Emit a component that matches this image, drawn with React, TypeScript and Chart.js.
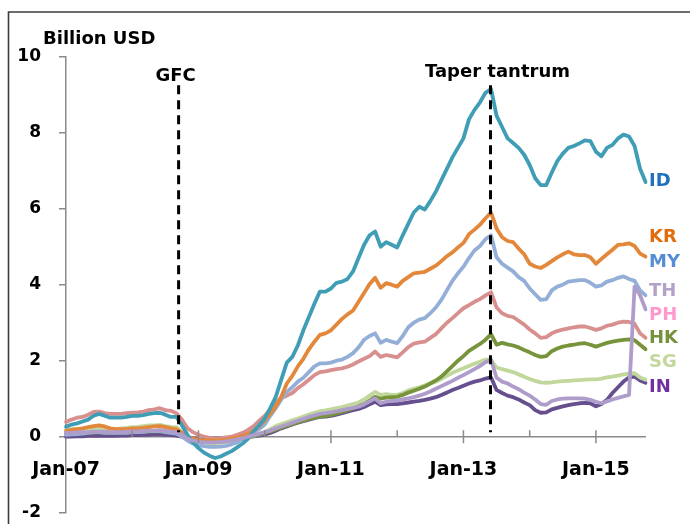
import React, { useEffect, useRef } from "react";
import { Chart, registerables } from "chart.js";

Chart.register(...registerables);

// ---------- DATA ----------
const SERIES_NAMES = ["ID", "KR", "MY", "TH", "PH", "HK", "SG", "IN"];

// Monthly values, Jan-07 .. Oct-15 (billion USD)
const ID = [
  0.26, 0.32, 0.35, 0.40, 0.45, 0.55, 0.60, 0.55, 0.50, 0.50,
  0.50, 0.52, 0.55, 0.55, 0.57, 0.60, 0.62, 0.63, 0.58, 0.52,
  0.52, 0.30, 0.05, -0.15, -0.30, -0.42, -0.50, -0.56, -0.52, -0.45,
  -0.38, -0.28, -0.18, -0.05, 0.15, 0.30, 0.48, 0.75, 1.05, 1.50,
  1.95, 2.10, 2.40, 2.80, 3.15, 3.50, 3.82, 3.82, 3.90, 4.05,
  4.08, 4.15, 4.35, 4.70, 5.05, 5.30, 5.40, 5.00, 5.12, 5.05,
  4.98, 5.30, 5.60, 5.90, 6.05, 5.98, 6.20, 6.45, 6.75, 7.05,
  7.35, 7.60, 7.85, 8.35, 8.60, 8.80, 9.05, 9.15, 8.45, 8.15,
  7.85, 7.73, 7.60, 7.42, 7.15, 6.80, 6.62, 6.62, 6.95, 7.25,
  7.45, 7.60, 7.65, 7.72, 7.80, 7.78, 7.50, 7.38, 7.60, 7.68,
  7.85, 7.95, 7.90, 7.65, 7.05, 6.70,
];
const KR = [
  0.15, 0.18, 0.20, 0.22, 0.25, 0.28, 0.30, 0.27, 0.22, 0.20,
  0.20, 0.20, 0.22, 0.22, 0.23, 0.25, 0.27, 0.28, 0.25, 0.22,
  0.20, 0.10, 0.00, -0.05, -0.08, -0.10, -0.10, -0.10, -0.10, -0.08,
  -0.05, -0.02, 0.02, 0.08, 0.15, 0.28, 0.42, 0.60, 0.80, 1.05,
  1.40, 1.60, 1.85, 2.05, 2.30, 2.50, 2.68, 2.72, 2.80, 2.95,
  3.10, 3.22, 3.32, 3.55, 3.78, 4.02, 4.18, 3.92, 4.04, 4.00,
  3.95, 4.10, 4.20, 4.30, 4.32, 4.34, 4.42, 4.50, 4.62, 4.75,
  4.85, 4.98, 5.10, 5.33, 5.45, 5.58, 5.75, 5.90, 5.48, 5.25,
  5.15, 5.12, 4.95, 4.80, 4.55, 4.48, 4.44, 4.52, 4.62, 4.72,
  4.80, 4.87, 4.80, 4.78, 4.78, 4.72, 4.55, 4.68, 4.80, 4.92,
  5.05, 5.06, 5.09, 5.02, 4.82, 4.74,
];
const MY = [
  0.05, 0.06, 0.07, 0.08, 0.10, 0.12, 0.12, 0.10, 0.10, 0.10,
  0.10, 0.10, 0.12, 0.12, 0.13, 0.15, 0.15, 0.15, 0.12, 0.10,
  0.08, 0.00, -0.10, -0.18, -0.22, -0.25, -0.27, -0.27, -0.26, -0.24,
  -0.20, -0.15, -0.05, 0.05, 0.12, 0.20, 0.32, 0.55, 0.75, 0.98,
  1.18, 1.30, 1.45, 1.55, 1.70, 1.85, 1.93, 1.93, 1.95, 2.00,
  2.03, 2.10, 2.20, 2.35, 2.55, 2.65, 2.72, 2.47, 2.55, 2.50,
  2.46, 2.65, 2.88, 3.00, 3.08, 3.12, 3.25, 3.40, 3.60, 3.85,
  4.10, 4.30, 4.47, 4.70, 4.90, 5.02, 5.20, 5.30, 4.72, 4.55,
  4.45, 4.35, 4.20, 4.10, 3.90, 3.75, 3.60, 3.62, 3.85, 3.95,
  4.00, 4.08, 4.10, 4.12, 4.12, 4.05, 3.95, 3.98, 4.08, 4.12,
  4.18, 4.22, 4.15, 4.10, 3.85, 3.72,
];
const TH = [
  0.10, 0.10, 0.11, 0.12, 0.12, 0.13, 0.14, 0.13, 0.12, 0.12,
  0.12, 0.13, 0.14, 0.14, 0.15, 0.16, 0.16, 0.17, 0.15, 0.13,
  0.12, 0.05, -0.05, -0.10, -0.13, -0.15, -0.15, -0.15, -0.14, -0.12,
  -0.10, -0.07, -0.04, 0.00, 0.04, 0.08, 0.12, 0.16, 0.22, 0.27,
  0.32, 0.37, 0.42, 0.47, 0.52, 0.56, 0.60, 0.62, 0.64, 0.67,
  0.70, 0.73, 0.76, 0.79, 0.85, 0.93, 1.01, 0.88, 0.92, 0.94,
  0.95, 0.98, 1.01, 1.04, 1.08, 1.13, 1.19, 1.26, 1.33, 1.40,
  1.47, 1.55, 1.62, 1.70, 1.78, 1.86, 1.96, 2.02, 1.55, 1.45,
  1.40, 1.32, 1.25, 1.16, 1.08, 0.98, 0.86, 0.84, 0.94, 0.98,
  1.00, 1.01, 1.01, 1.01, 1.00, 0.97, 0.92, 0.88, 0.93, 0.98,
  1.02, 1.06, 1.10, 3.95, 3.72, 3.35,
];
const PH = [
  0.39, 0.45, 0.50, 0.52, 0.58, 0.65, 0.66, 0.62, 0.60, 0.60,
  0.60, 0.62, 0.63, 0.64, 0.66, 0.70, 0.72, 0.75, 0.70, 0.68,
  0.62, 0.45, 0.23, 0.12, 0.05, 0.00, -0.03, -0.05, -0.04, -0.02,
  0.00, 0.05, 0.10, 0.18, 0.28, 0.42, 0.55, 0.70, 0.90, 1.02,
  1.08, 1.15, 1.28, 1.38, 1.50, 1.62, 1.70, 1.72, 1.75, 1.78,
  1.80, 1.84, 1.90, 1.98, 2.05, 2.12, 2.24, 2.10, 2.15, 2.12,
  2.09, 2.22, 2.36, 2.45, 2.48, 2.50, 2.60, 2.70, 2.85, 3.00,
  3.12, 3.25, 3.38, 3.46, 3.55, 3.62, 3.72, 3.80, 3.40, 3.25,
  3.18, 3.15, 3.05, 2.95, 2.82, 2.72, 2.60, 2.62, 2.72, 2.78,
  2.82, 2.85, 2.88, 2.90, 2.90, 2.86, 2.81, 2.85, 2.92, 2.95,
  3.00, 3.03, 3.02, 2.97, 2.72, 2.60,
];
const HK = [
  0.08, 0.09, 0.10, 0.10, 0.10, 0.11, 0.12, 0.11, 0.10, 0.10,
  0.11, 0.11, 0.12, 0.12, 0.13, 0.14, 0.14, 0.15, 0.13, 0.11,
  0.10, 0.03, -0.05, -0.09, -0.11, -0.12, -0.13, -0.13, -0.12, -0.10,
  -0.09, -0.07, -0.04, -0.01, 0.02, 0.06, 0.10, 0.14, 0.19, 0.24,
  0.29, 0.33, 0.38, 0.42, 0.46, 0.50, 0.53, 0.55, 0.57, 0.61,
  0.65, 0.70, 0.75, 0.80, 0.86, 0.95, 1.05, 1.00, 1.03, 1.04,
  1.05, 1.10, 1.16, 1.21, 1.26, 1.32, 1.40, 1.48, 1.58, 1.72,
  1.86, 2.00, 2.12, 2.26, 2.35, 2.44, 2.55, 2.70, 2.42, 2.47,
  2.43, 2.40, 2.35, 2.28, 2.22, 2.15, 2.10, 2.12, 2.25, 2.32,
  2.37, 2.40, 2.42, 2.45, 2.46, 2.42, 2.37, 2.42, 2.47, 2.50,
  2.53, 2.55, 2.56, 2.54, 2.42, 2.30,
];
const SG = [
  0.18, 0.20, 0.20, 0.20, 0.22, 0.22, 0.24, 0.22, 0.20, 0.20,
  0.22, 0.23, 0.25, 0.26, 0.28, 0.30, 0.30, 0.31, 0.28, 0.26,
  0.25, 0.12, 0.00, -0.08, -0.12, -0.15, -0.17, -0.17, -0.16, -0.14,
  -0.12, -0.10, -0.06, -0.02, 0.02, 0.06, 0.12, 0.20, 0.28, 0.33,
  0.38, 0.43, 0.48, 0.53, 0.58, 0.63, 0.67, 0.69, 0.72, 0.75,
  0.78, 0.82, 0.86, 0.90, 0.98, 1.08, 1.18, 1.10, 1.12, 1.10,
  1.10, 1.15, 1.22, 1.26, 1.30, 1.35, 1.40, 1.45, 1.52, 1.60,
  1.68, 1.74, 1.80, 1.86, 1.92, 1.97, 2.03, 2.02, 1.82, 1.78,
  1.74, 1.70, 1.64, 1.58, 1.52, 1.47, 1.43, 1.42, 1.43, 1.45,
  1.46, 1.47, 1.48, 1.49, 1.50, 1.51, 1.51, 1.53, 1.56, 1.58,
  1.61, 1.64, 1.66, 1.67, 1.56, 1.50,
];
const IN = [
  0.00, 0.00, 0.01, 0.01, 0.02, 0.02, 0.03, 0.02, 0.02, 0.02,
  0.03, 0.03, 0.04, 0.04, 0.05, 0.05, 0.06, 0.06, 0.05, 0.04,
  0.03, 0.00, -0.03, -0.05, -0.07, -0.08, -0.08, -0.08, -0.07, -0.06,
  -0.05, -0.04, -0.03, -0.01, 0.01, 0.03, 0.06, 0.10, 0.16, 0.22,
  0.27, 0.32, 0.37, 0.41, 0.45, 0.49, 0.52, 0.53, 0.55, 0.58,
  0.62, 0.66, 0.70, 0.73, 0.78, 0.85, 0.92, 0.83, 0.85, 0.86,
  0.86, 0.88, 0.90, 0.92, 0.94, 0.97, 1.00, 1.04, 1.10, 1.16,
  1.23, 1.28, 1.34, 1.40, 1.45, 1.48, 1.53, 1.56, 1.23, 1.15,
  1.08, 1.04, 0.98, 0.90, 0.83, 0.70, 0.63, 0.64, 0.72, 0.76,
  0.80, 0.83, 0.86, 0.88, 0.89, 0.88, 0.80, 0.86, 0.97, 1.15,
  1.30, 1.45, 1.56, 1.58, 1.48, 1.42,
];
const SERIES_VALUES = [ID, KR, MY, TH, PH, HK, SG, IN];

const MONTH_NAMES = ["Jan", "Feb", "Mar", "Apr", "May", "Jun", "Jul", "Aug", "Sep", "Oct", "Nov", "Dec"];
const START_YEAR = 7; // 2007
const MONTH_LABELS = ID.map(
  (_, i) => `${MONTH_NAMES[i % 12]}-${String(START_YEAR + Math.floor(i / 12)).padStart(2, "0")}`
);
const TICK_LABELS = ["Jan-07", "Jan-09", "Jan-11", "Jan-13", "Jan-15"];
const Y_MIN = -2;
const Y_MAX = 10;
const Y_STEP = 2;
const AXIS_TITLE = "Billion USD";

// Event markers (month index from Jan-07) and text
const EVENT_NAMES = ["GFC", "Taper tantrum"];
const EVENT_MONTHS = [20.4, 76.9];
const EVENT_LINE_FROM = 0.12;
const EVENT_LINE_TO = 9.25;

// End-of-line labels (value where each label sits)
const LABEL_Y = [6.71, 5.25, 4.6, 3.82, 3.2, 2.59, 1.96, 1.3];

// ---------- STYLE ----------
const FONT = "'DejaVu Sans'";
const AXIS_COLOR = "#8a8a8a";
const LINE_COLORS = ["#3F9DB6", "#E3873B", "#93AFD7", "#AE9DCB", "#D8908E", "#77943B", "#C1D79C", "#664F8E"];
const LABEL_COLORS = ["#1E70C0", "#E36C0A", "#558ED5", "#B3A2C7", "#FF99CC", "#76923C", "#C3D69B", "#7030A0"];

const overlayPlugin = {
  id: "overlay",
  afterDraw(chart: any) {
    const ctx: CanvasRenderingContext2D = chart.ctx;
    const xs = chart.scales.x;
    const ys = chart.scales.y;
    ctx.save();

    // outer frame
    ctx.strokeStyle = "#3c3c3c";
    ctx.lineWidth = 1.6;
    ctx.beginPath();
    ctx.moveTo(8.5, 530);
    ctx.lineTo(8.5, 12);
    ctx.lineTo(700, 12);
    ctx.stroke();

    // x tick marks
    const y0 = ys.getPixelForValue(0);
    ctx.strokeStyle = AXIS_COLOR;
    ctx.lineWidth = 1.5;
    for (let i = 12; i < MONTH_LABELS.length; i += 12) {
      const x = xs.getPixelForValue(i);
      const major = TICK_LABELS.includes(MONTH_LABELS[i]);
      ctx.beginPath();
      ctx.moveTo(x, y0 - 6.5);
      ctx.lineTo(x, major ? y0 + 6.5 : y0);
      ctx.stroke();
    }

    // event lines
    ctx.strokeStyle = "#000";
    ctx.lineWidth = 3;
    ctx.setLineDash([9, 6]);
    EVENT_MONTHS.forEach((m) => {
      const x = xs.getPixelForValue(m);
      ctx.beginPath();
      ctx.moveTo(x, ys.getPixelForValue(EVENT_LINE_TO));
      ctx.lineTo(x, ys.getPixelForValue(EVENT_LINE_FROM));
      ctx.stroke();
    });
    ctx.setLineDash([]);

    // event labels
    ctx.fillStyle = "#000";
    ctx.font = `bold 18px ${FONT}`;
    ctx.textAlign = "center";
    ctx.textBaseline = "alphabetic";
    const topPx = ys.getPixelForValue(EVENT_LINE_TO);
    EVENT_NAMES.forEach((name, i) => {
      const x = xs.getPixelForValue(EVENT_MONTHS[i]);
      ctx.fillText(name, x + (i === 0 ? -3 : 7), topPx - (i === 0 ? 4.5 : 8.5));
    });

    // axis title
    ctx.textAlign = "left";
    ctx.fillText(AXIS_TITLE, 43, 43.5);

    // series labels
    ctx.textBaseline = "middle";
    SERIES_NAMES.forEach((name, i) => {
      ctx.fillStyle = LABEL_COLORS[i];
      ctx.fillText(name, 649, ys.getPixelForValue(LABEL_Y[i]));
    });

    ctx.restore();
  },
};

export default function App() {
  const ref = useRef<HTMLCanvasElement>(null);

  useEffect(() => {
    if (!ref.current) return;
    const chart = new Chart(ref.current, {
      type: "line",
      data: {
        labels: MONTH_LABELS,
        datasets: SERIES_NAMES.map((name, i) => ({
          label: name,
          data: SERIES_VALUES[i],
          borderColor: LINE_COLORS[i],
          backgroundColor: LINE_COLORS[i],
          borderWidth: 3.8,
          pointRadius: 0,
          tension: 0,
          fill: false,
          borderCapStyle: "round",
          borderJoinStyle: "round",
          order: name === "TH" ? 0 : 1,
        })),
      },
      options: {
        responsive: false,
        animation: false,
        devicePixelRatio: 1,
        layout: { padding: { left: 0, top: 56.7, right: 44.4, bottom: 11.3 } },
        plugins: { legend: { display: false }, tooltip: { enabled: false } },
        scales: {
          x: {
            type: "category",
            position: { y: 0 } as any,
            offset: false,
            grid: { display: true, drawOnChartArea: false, drawTicks: false, color: "rgba(0,0,0,0)" },
            border: { display: true, color: AXIS_COLOR, width: 1.5 },
            ticks: {
              autoSkip: false,
              maxRotation: 0,
              minRotation: 0,
              padding: 22,
              color: "#000",
              font: { family: FONT, size: 19, weight: "bold" },
              callback: (_v: any, idx: number) =>
                TICK_LABELS.includes(MONTH_LABELS[idx]) ? MONTH_LABELS[idx] : "",
            },
            afterFit: (s: any) => {
              s.height = 0;
              s.paddingTop = 0;
              s.paddingBottom = 0;
            },
          },
          y: {
            position: "left",
            min: Y_MIN,
            max: Y_MAX,
            ticks: {
              stepSize: Y_STEP,
              padding: 18,
              color: "#000",
              font: { family: FONT, size: 17, weight: "bold" },
            },
            grid: { drawOnChartArea: false, tickLength: 7, color: AXIS_COLOR, lineWidth: 1.5 },
            border: { color: AXIS_COLOR, width: 1.5 },
            afterFit: (s: any) => {
              s.width = 66;
              s.paddingTop = 0;
              s.paddingBottom = 0;
            },
          },
        },
      },
      plugins: [overlayPlugin],
    } as any);
    return () => chart.destroy();
  }, []);

  return (
    <div style={{ position: "fixed", left: 0, top: 0, width: 690, height: 524, background: "#fff" }}>
      <canvas ref={ref} width={690} height={524} style={{ display: "block" }} />
    </div>
  );
}
